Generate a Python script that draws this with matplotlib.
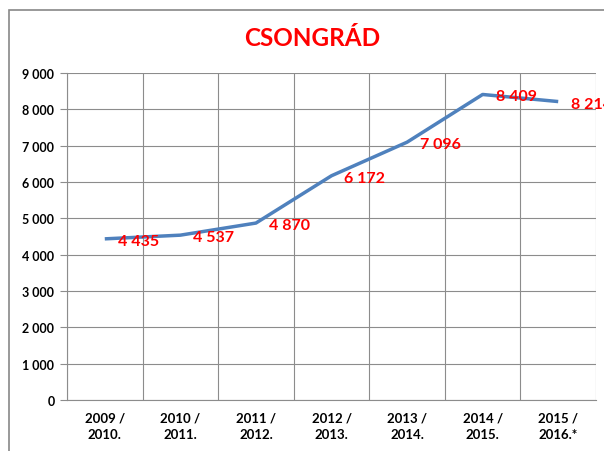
import matplotlib

matplotlib.use("Agg")
import matplotlib.pyplot as plt
import matplotlib.patches as patches
import numpy
from matplotlib.ticker import FixedLocator, FuncFormatter

periods = [
    "2009 /\n2010.",
    "2010 /\n2011.",
    "2011 /\n2012.",
    "2012 /\n2013.",
    "2013 /\n2014.",
    "2014 /\n2015.",
    "2015 /\n2016.*",
]
values = [4435, 4537, 4870, 6172, 7096, 8409, 8214]
y_ticks = list(range(0, 9001, 1000))

plt.rcParams["font.family"] = ["Lato", "DejaVu Sans"]

fig = plt.figure(figsize=(6.04, 4.52), dpi=100)
ax = fig.add_axes([67 / 604, 1 - 401 / 452, (596 - 67) / 604, (401 - 74) / 452])

x = numpy.arange(len(values))
ax.plot(x, values, color="#4F81BD", linewidth=2.5, solid_capstyle="butt", zorder=3)

for xi, v in zip(x, values):
    ax.annotate(
        f"{v:,}".replace(",", " "),
        (xi, v),
        xytext=(13, -2),
        textcoords="offset pixels",
        ha="left",
        va="center",
        color="#FF0000",
        fontsize=11.5,
        fontweight="bold",
        annotation_clip=False,
        zorder=4,
    )

grid_color = "#8C8C8C"
ax.set_xlim(-0.5, len(values) - 0.5)
ax.set_ylim(0, 9000)
ax.set_xticks(x)
ax.set_xticklabels(periods, fontsize=9.5, fontweight="bold", linespacing=1.5)
ax.xaxis.set_minor_locator(FixedLocator(numpy.arange(-0.5, len(values), 1.0)))
ax.set_yticks(y_ticks)
ax.yaxis.set_major_formatter(FuncFormatter(lambda v, _: f"{v:,.0f}".replace(",", " ")))
for lab in ax.get_yticklabels():
    lab.set_fontweight("bold")
    lab.set_fontsize(9)

ax.tick_params(axis="x", which="major", length=0, pad=8)
ax.tick_params(axis="x", which="minor", length=0)
ax.tick_params(axis="y", length=5, color=grid_color, width=0.8, pad=4)
ax.grid(True, axis="y", which="major", color=grid_color, linewidth=0.8)
ax.grid(True, axis="x", which="minor", color=grid_color, linewidth=0.8)
ax.set_axisbelow(True)
for side in ["top", "right"]:
    ax.spines[side].set_visible(False)
for side in ["left", "bottom"]:
    ax.spines[side].set_color(grid_color)
    ax.spines[side].set_linewidth(0.8)

fig.text(
    312 / 604,
    1 - 38 / 452,
    "CSONGRÁD",
    ha="center",
    va="center",
    color="#FF0000",
    fontsize=17.5,
    fontweight="bold",
)

# chart border, cut off at right and bottom like in the source
fig.patches.append(
    patches.Rectangle(
        (8.5 / 604, -0.1),
        1.2,
        1 - 10.5 / 452 + 0.1,
        transform=fig.transFigure,
        fill=False,
        edgecolor="#888888",
        linewidth=1.2,
    )
)

fig.savefig("out.png", dpi=100)
